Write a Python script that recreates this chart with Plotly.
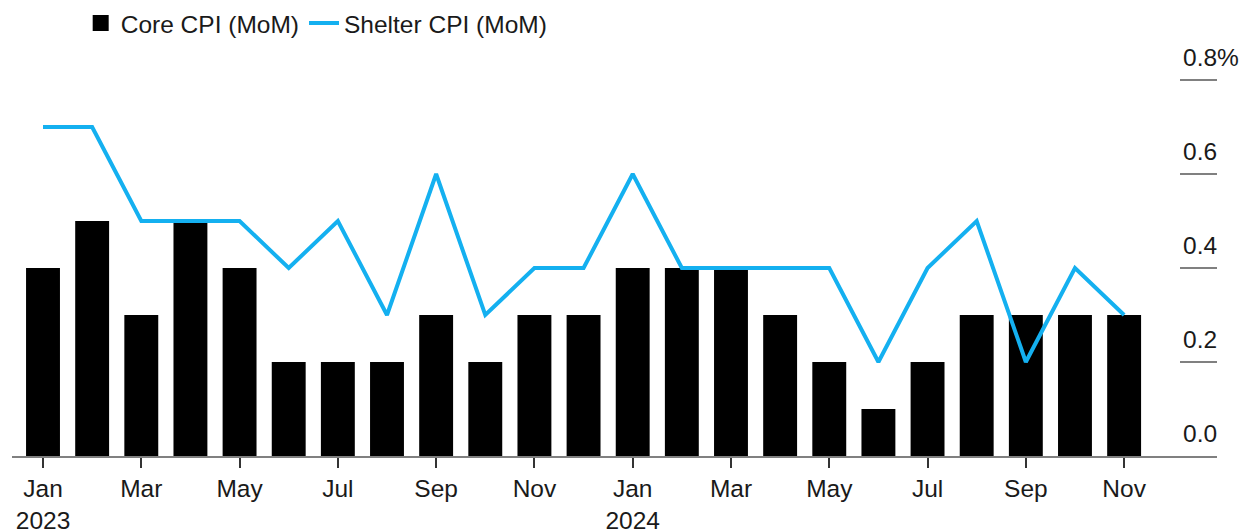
import plotly.graph_objects as go

months = ["2023-01", "2023-02", "2023-03", "2023-04", "2023-05", "2023-06",
          "2023-07", "2023-08", "2023-09", "2023-10", "2023-11", "2023-12",
          "2024-01", "2024-02", "2024-03", "2024-04", "2024-05", "2024-06",
          "2024-07", "2024-08", "2024-09", "2024-10", "2024-11"]
core_cpi = [0.4, 0.5, 0.3, 0.5, 0.4, 0.2, 0.2, 0.2, 0.3, 0.2, 0.3, 0.3,
            0.4, 0.4, 0.4, 0.3, 0.2, 0.1, 0.2, 0.3, 0.3, 0.3, 0.3]
shelter_cpi = [0.7, 0.7, 0.5, 0.5, 0.5, 0.4, 0.5, 0.3, 0.6, 0.3, 0.4, 0.4,
               0.6, 0.4, 0.4, 0.4, 0.4, 0.2, 0.4, 0.5, 0.2, 0.4, 0.3]
x_tick_vals = months[::2]
x_tick_text = ["Jan<br>2023", "Mar", "May", "Jul", "Sep", "Nov",
               "Jan<br>2024", "Mar", "May", "Jul", "Sep", "Nov"]
y_tick_vals = [0.0, 0.2, 0.4, 0.6, 0.8]
y_tick_text = ["0.0", "0.2", "0.4", "0.6", "0.8%"]

FONT = "Liberation Sans, Arial, sans-serif"
TXT = "#1a1a1a"
FS = 24.5
BLUE = "#14b0f0"

fig = go.Figure()
fig.add_trace(go.Bar(x=months, y=core_cpi, name="Core CPI (MoM)",
                     showlegend=False,
                     marker=dict(color="#000000", line=dict(width=0))))
# legend-only entry with a larger square swatch
fig.add_trace(go.Scatter(x=[None], y=[None], name="Core CPI (MoM)",
                         mode="markers",
                         marker=dict(symbol="square", size=17, color="#000000")))
fig.add_trace(go.Scatter(x=months, y=shelter_cpi, name="Shelter CPI (MoM)",
                         mode="lines", line=dict(color=BLUE, width=4)))

shapes = []
annotations = []
for v, t in zip(y_tick_vals, y_tick_text):
    if v > 0:
        shapes.append(dict(type="line", xref="paper", yref="y",
                           x0=0.9693, x1=1.0, y0=v, y1=v,
                           line=dict(color="#808080", width=2)))
    annotations.append(dict(xref="paper", yref="y", x=0.9705, y=v,
                            xanchor="left", yanchor="bottom", yshift=7,
                            text=t, showarrow=False,
                            font=dict(family=FONT, size=FS, color=TXT)))

# the page body adds an 8px offset, so margins are shifted to compensate
fig.update_layout(
    width=1256, height=531,
    margin=dict(l=4, r=47, t=52, b=83, autoexpand=False),
    plot_bgcolor="white", paper_bgcolor="white",
    bargap=0.31,
    font=dict(family=FONT, size=FS, color=TXT),
    showlegend=True,
    legend=dict(orientation="h", x=0.057, y=1.093, xanchor="left",
                yanchor="middle", font=dict(family=FONT, size=FS, color=TXT),
                itemwidth=30, tracegroupgap=0),
    xaxis=dict(type="category", range=[-0.631, 23.89], automargin=False,
               tickvals=x_tick_vals, ticktext=x_tick_text,
               ticks="outside", ticklen=10, tickwidth=1.5, tickcolor="#333",
               ticklabelstandoff=0,
               showline=True, linecolor="#808080", linewidth=2,
               showgrid=False, zeroline=False,
               tickfont=dict(family=FONT, size=FS, color=TXT)),
    yaxis=dict(range=[0, 0.8426], showgrid=False, zeroline=False,
               automargin=False,
               showticklabels=False, showline=False),
    shapes=shapes,
    annotations=annotations,
)

fig.write_html("out.html")
